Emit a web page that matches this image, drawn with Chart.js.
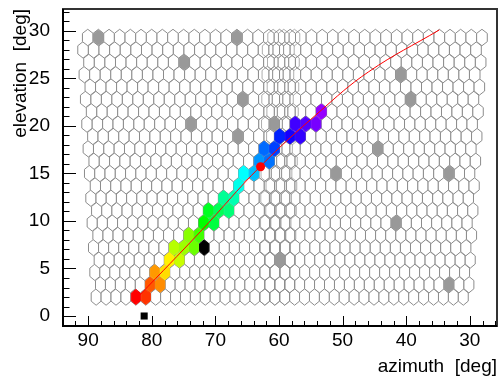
<!DOCTYPE html>
<html>
<head>
<meta charset="utf-8">
<script src="https://cdn.jsdelivr.net/npm/chart.js@4.4.0/dist/chart.umd.min.js"></script>
<style>
  html, body { margin: 0; padding: 0; background: #fff; }
  canvas { display: block; }
</style>
</head>
<body>
<canvas id="chart1" width="502" height="380"></canvas>
<script>
// camera pixel rows (elevation of each row, deg) and pixels per row
const rowElevation = [2.0, 3.3, 4.6, 5.9, 7.2, 8.5, 9.8, 11.1, 12.4, 13.7, 15.0, 16.3, 17.6, 18.9, 20.2, 21.5, 22.8, 24.1, 25.4, 26.7, 28.0, 29.3];
const pixelsPerRow = 38;
const cameraCentreAz = 59.5;
const azPitch = [1.56, 1.675];   // azimuth pitch of a pixel at bottom / top row

// pixels with signal: azimuth, elevation, arrival time (ns)
const hitAz   = [82.5, 81.0, 80.3, 78.8, 79.4, 77.8, 77.5, 76.1, 76.4, 75.0, 73.6, 74.4, 73.0, 72.2, 70.5, 71.4, 69.9, 68.3, 68.9, 67.5, 66.3, 65.8, 64.2, 63.4, 61.9, 62.0, 60.5, 60.0, 58.4, 56.9, 57.7, 56.1, 54.6, 53.8];
const hitEl   = [2.0, 2.0, 3.3, 3.3, 4.6, 4.6, 5.9, 5.9, 7.2, 7.2, 7.2, 8.5, 8.5, 9.8, 9.8, 11.1, 11.1, 11.1, 12.4, 12.4, 13.7, 15.0, 15.0, 16.3, 16.3, 17.6, 17.6, 18.9, 18.9, 18.9, 20.2, 20.2, 20.2, 21.5];
const hitTime = [0, 1.2, 2.1, 3.3, 3.6, 5.2, 5.7, 7.3, 7.7, 8.3, 9.5, 8.8, 10.5, 12.0, 13.5, 12.8, 14.0, 14.8, 15.5, 16.2, 17.5, 18.0, 19.5, 20.5, 21.3, 21.5, 22.5, 23.2, 24.5, 25.2, 25.5, 26.0, 26.8, 27.5];

// dead pixels
const badAz = [88.0, 65.9, 74.2, 65.3, 73.6, 66.2, 60.7, 40.1, 40.1, 44.9, 51.0, 34.0, 42.0, 59.2, 33.7];
const badEl = [28.9, 29.4, 26.9, 22.7, 20.4, 18.8, 19.9, 25.7, 22.9, 17.8, 15.0, 14.8, 9.9, 5.9, 3.3];

// saturated pixel
const satAz = [72.1];
const satEl = [7.2];

// shower axis fit, seed point, telescope pointing
const fitAz = [81.9, 72.4, 63.0, 53.7, 45.9, 34.8];
const fitEl = [2.2, 8.85, 15.7, 21.45, 25.7, 30.1];
const seedAz = [62.9];
const seedEl = [15.7];
const pointAz = [81.2];
const pointEl = [0.0];

const azTicks = [90, 80, 70, 60, 50, 40, 30];
const elTicks = [0, 5, 10, 15, 20, 25, 30];

const rowStep = rowElevation[1] - rowElevation[0];
const topRow = rowElevation.length - 1;

function pitchOfRow(r) {
  return azPitch[0] + (azPitch[1] - azPitch[0]) * r / topRow;
}
function pixelAz(r, k) {
  return cameraCentreAz - (k - (pixelsPerRow - 1) / 2 - 0.25 + 0.5 * (r % 2)) * pitchOfRow(r);
}
// put a reading on the nearest camera pixel
function snap(az, el) {
  let r = 0;
  rowElevation.forEach((e, i) => { if (Math.abs(e - el) < Math.abs(rowElevation[r] - el)) r = i; });
  let k = Math.round((cameraCentreAz - az) / pitchOfRow(r) + (pixelsPerRow - 1) / 2 + 0.25 - 0.5 * (r % 2));
  return { x: pixelAz(r, k), y: rowElevation[r], row: r };
}

var gridCells = [];
var seamCells = [];
rowElevation.forEach((el, r) => {
  for (let k = 0; k < pixelsPerRow; k++) gridCells.push({ x: pixelAz(r, k), y: el, row: r });
  for (let k = 17; k <= 19; k++) seamCells.push({ x: pixelAz(r, k) - 0.4 * pitchOfRow(r) * r / topRow, y: el, row: r });
});
var hitCells = hitAz.map((az, i) => snap(az, hitEl[i]));
var hitColours = hitTime.map(t => 'hsl(' + (t * 10) + ', 100%, 50%)');
var badCells = badAz.map((az, i) => snap(az, badEl[i]));
var satCells = satAz.map((az, i) => snap(az, satEl[i]));

const hexCells = {
  id: 'hexCells',
  beforeDatasetsDraw(chart) {
    const { ctx, chartArea: area, scales: { x, y } } = chart;
    ctx.save();
    ctx.beginPath();
    ctx.rect(area.left, area.top, area.right - area.left, area.bottom - area.top);
    ctx.clip();
    chart.data.datasets.forEach(ds => {
      if (!ds.hex) return;
      ds.data.forEach((p, i) => {
        const a = pitchOfRow(p.row) / 2 * ds.hex.scale;
        const b = rowStep / 1.5 * ds.hex.scale;
        ctx.beginPath();
        ctx.moveTo(x.getPixelForValue(p.x), y.getPixelForValue(p.y + b));
        ctx.lineTo(x.getPixelForValue(p.x - a), y.getPixelForValue(p.y + b / 2));
        ctx.lineTo(x.getPixelForValue(p.x - a), y.getPixelForValue(p.y - b / 2));
        ctx.lineTo(x.getPixelForValue(p.x), y.getPixelForValue(p.y - b));
        ctx.lineTo(x.getPixelForValue(p.x + a), y.getPixelForValue(p.y - b / 2));
        ctx.lineTo(x.getPixelForValue(p.x + a), y.getPixelForValue(p.y + b / 2));
        ctx.closePath();
        const fill = Array.isArray(ds.hex.fill) ? ds.hex.fill[i] : ds.hex.fill;
        if (fill) { ctx.fillStyle = fill; ctx.fill(); }
        ctx.lineWidth = 1;
        ctx.strokeStyle = ds.hex.stroke || fill;
        ctx.stroke();
      });
    });
    ctx.restore();
  }
};

const font = { family: '"Liberation Sans", Arial, sans-serif', size: 19 };

const rootFrame = {
  id: 'rootFrame',
  afterDraw(chart) {
    const { ctx, chartArea: a, scales: { x, y } } = chart;
    ctx.save();
    ctx.strokeStyle = '#000';
    ctx.lineWidth = 1;
    ctx.beginPath();
    for (let v = azTicks[azTicks.length - 1] - 4; v <= azTicks[0] + 2; v += 2) {
      const px = Math.round(x.getPixelForValue(v)) + 0.5;
      const len = azTicks.includes(v) ? 10 : 5;
      ctx.moveTo(px, a.bottom);
      ctx.lineTo(px, a.bottom - len);
    }
    for (let v = elTicks[0]; v <= elTicks[elTicks.length - 1] + 2; v++) {
      const py = Math.round(y.getPixelForValue(v)) + 0.5;
      const len = elTicks.includes(v) ? 13 : 6.5;
      ctx.moveTo(a.left, py);
      ctx.lineTo(a.left + len, py);
    }
    ctx.stroke();
    ctx.lineWidth = 2;
    ctx.strokeStyle = '#333';
    ctx.strokeRect(a.left, a.top, a.right - a.left, a.bottom - a.top);
    ctx.strokeStyle = '#000';
    ctx.beginPath();
    ctx.moveTo(a.left, a.top);
    ctx.lineTo(a.left, a.bottom);
    ctx.lineTo(a.right, a.bottom);
    ctx.stroke();
    // x axis title (right aligned, as ROOT does)
    ctx.fillStyle = '#000';
    ctx.font = font.size + 'px ' + font.family;
    ctx.textAlign = 'right';
    ctx.textBaseline = 'middle';
    ctx.fillText('azimuth  [deg]', a.right, chart.height - 13);
    ctx.restore();
  }
};

var ctx1 = document.getElementById('chart1').getContext('2d');
var chart1 = new Chart(ctx1, {
  type: 'scatter',
  data: {
    datasets: [
      { label: 'camera', data: gridCells, pointRadius: 0, hex: { scale: 1, fill: '#fff', stroke: '#8c8c8c' } },
      { label: 'seam', data: seamCells, pointRadius: 0, hex: { scale: 1, fill: null, stroke: 'rgba(140,140,140,0.7)' } },
      { label: 'dead', data: badCells, pointRadius: 0, hex: { scale: 0.92, fill: '#999' } },
      { label: 'hits', data: hitCells, pointRadius: 0, hex: { scale: 0.92, fill: hitColours } },
      { label: 'saturated', data: satCells, pointRadius: 0, hex: { scale: 0.92, fill: '#000' } },
      {
        label: 'fit',
        data: fitAz.map((az, i) => ({ x: az, y: fitEl[i] })),
        showLine: true,
        borderColor: '#ff0000',
        borderWidth: 1,
        pointRadius: 0,
        tension: 0.4
      },
      {
        label: 'seed',
        data: seedAz.map((az, i) => ({ x: az, y: seedEl[i] })),
        pointRadius: 4.5,
        backgroundColor: '#ff0000',
        borderColor: '#ff0000',
        borderWidth: 0
      },
      {
        label: 'pointing',
        data: pointAz.map((az, i) => ({ x: az, y: pointEl[i] })),
        pointStyle: 'rect',
        pointRadius: 5,
        backgroundColor: '#000',
        borderColor: '#000',
        borderWidth: 0
      }
    ]
  },
  options: {
    responsive: false,
    animation: false,
    devicePixelRatio: 1,
    layout: { padding: { top: 9, right: 3, left: 0, bottom: 0 } },
    plugins: { legend: { display: false }, tooltip: { enabled: false } },
    scales: {
      x: {
        type: 'linear',
        position: 'bottom',
        reverse: true,
        min: 25.73,
        max: 93.96,
        grid: { display: false, drawTicks: false },
        border: { display: false },
        ticks: { color: '#000', font: font, padding: 3, maxRotation: 0, autoSkip: false },
        afterBuildTicks: s => { s.ticks = azTicks.map(v => ({ value: v })); },
        afterFit: s => { s.height = 54; s.paddingLeft = 0; s.paddingRight = 0; }
      },
      y: {
        type: 'linear',
        min: -1.05,
        max: 32.3,
        grid: { display: false, drawTicks: false },
        border: { display: false },
        ticks: { color: '#000', font: font, padding: 13, autoSkip: false },
        afterBuildTicks: s => { s.ticks = elTicks.map(v => ({ value: v })); },
        afterFit: s => { s.width = 63; s.paddingTop = 0; s.paddingBottom = 0; },
        title: { display: true, text: 'elevation  [deg]', align: 'end', color: '#000', font: font, padding: { top: 9, bottom: 0 } }
      }
    }
  },
  plugins: [hexCells, rootFrame]
});
</script>
</body>
</html>
